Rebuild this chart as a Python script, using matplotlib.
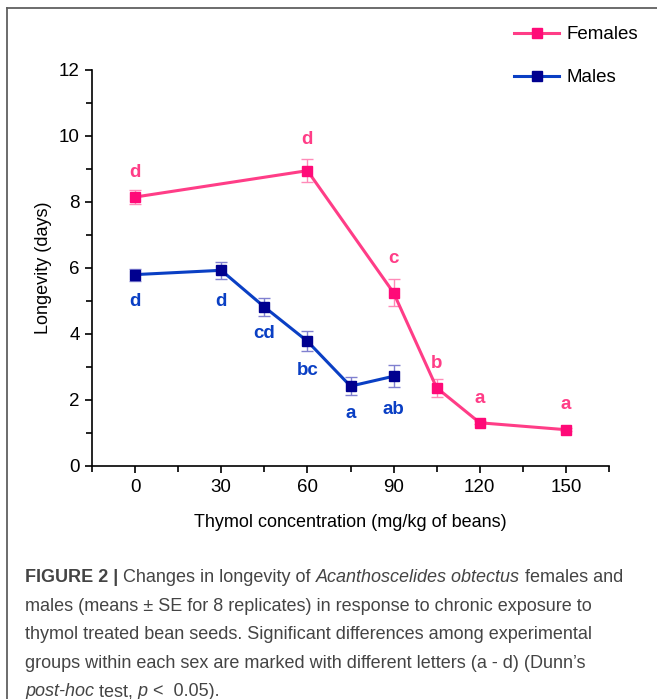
import matplotlib
matplotlib.use('Agg')
from matplotlib import pyplot as plt
from matplotlib.lines import Line2D
from matplotlib.ticker import MultipleLocator

plt.rcParams['font.family'] = ['Liberation Sans', 'DejaVu Sans']

# 数据
fem_x = [0, 60, 90, 105, 120, 150]
fem_y = [8.15, 8.95, 5.25, 2.37, 1.31, 1.10]
fem_err = [0.2, 0.35, 0.41, 0.28, 0.05, 0.04]
fem_letters = ['d', 'd', 'c', 'b', 'a', 'a']
fem_letter_y = [8.9, 9.9, 6.3, 3.1, 2.05, 1.85]

male_x = [0, 30, 45, 60, 75, 90]
male_y = [5.8, 5.93, 4.82, 3.78, 2.42, 2.72]
male_err = [0.18, 0.25, 0.28, 0.3, 0.28, 0.34]
male_letters = ['d', 'd', 'cd', 'bc', 'a', 'ab']
male_letter_y = [5.0, 4.97, 4.02, 2.88, 1.6, 1.7]

xticks = [0, 30, 60, 90, 120, 150]
yticks = [0, 2, 4, 6, 8, 10, 12]

fem_line = '#ff3d87'
fem_mark = '#ff0a78'
fem_ebar = '#ff8ab8'
male_line = '#0a3fc4'
male_mark = '#00008f'
male_ebar = '#8080d0'

fig = plt.figure(figsize=(6.57, 6.99), dpi=100)
ax = fig.add_axes([92 / 657, 1 - 466 / 699, 517 / 657, 396 / 699])

ax.errorbar(fem_x, fem_y, yerr=fem_err, fmt='none', ecolor=fem_ebar,
            elinewidth=1, capsize=4, capthick=1, zorder=2)
ax.errorbar(male_x, male_y, yerr=male_err, fmt='none', ecolor=male_ebar,
            elinewidth=1, capsize=4, capthick=1, zorder=2)
ax.plot(fem_x, fem_y, '-s', color=fem_line, mfc=fem_mark, mec=fem_mark,
        lw=2.2, ms=7, label='Females', zorder=3)
ax.plot(male_x, male_y, '-s', color=male_line, mfc=male_mark, mec=male_mark,
        lw=2.2, ms=7, label='Males', zorder=3)

for x, y, t in zip(fem_x, fem_letter_y, fem_letters):
    ax.text(x, y, t, color=fem_line, fontsize=13.5, fontweight='bold',
            ha='center', va='center')
for x, y, t in zip(male_x, male_letter_y, male_letters):
    ax.text(x, y, t, color=male_line, fontsize=13.5, fontweight='bold',
            ha='center', va='center')

ax.set_xlim(-15, 165)
ax.set_ylim(0, 12)
ax.set_xticks(xticks)
ax.set_yticks(yticks)
ax.xaxis.set_minor_locator(MultipleLocator(15))
ax.yaxis.set_minor_locator(MultipleLocator(1))
ax.tick_params(which='major', direction='out', length=5, width=1.2,
               labelsize=13.5, pad=4)
ax.tick_params(which='minor', direction='out', length=4, width=1.2)
for s in ['top', 'right']:
    ax.spines[s].set_visible(False)
for s in ['left', 'bottom']:
    ax.spines[s].set_linewidth(1.2)
ax.set_xlabel('Thymol concentration (mg/kg of beans)', fontsize=13, labelpad=13)
ax.set_ylabel('Longevity (days)', fontsize=13, labelpad=5)

fig.legend(loc='upper left', bbox_to_anchor=(514 / 657, 1 - 26 / 699),
           frameon=False, fontsize=13.5, labelspacing=1.4, handlelength=2.4,
           handletextpad=0.4, borderpad=0, borderaxespad=0)

# 外框
fig.add_artist(Line2D([7 / 657, 7 / 657], [0, 1 - 8 / 699], color='#606060', lw=1.3))
fig.add_artist(Line2D([7 / 657, 1], [1 - 8 / 699, 1 - 8 / 699], color='#606060', lw=1.3))

# 图注
cap_color = '#444444'
cap_size = 13
lines = [
    [('FIGURE 2 |', 'bold', 'normal'), (' Changes in longevity of ', 'normal', 'normal'),
     ('Acanthoscelides obtectus', 'normal', 'italic'), (' females and', 'normal', 'normal')],
    [('males (means \u00b1 SE for 8 replicates) in response to chronic exposure to', 'normal', 'normal')],
    [('thymol treated bean seeds. Significant differences among experimental', 'normal', 'normal')],
    [('groups within each sex are marked with different letters (a - d) (Dunn\u2019s', 'normal', 'normal')],
    [('post-hoc', 'normal', 'italic'), (' test, ', 'normal', 'normal'),
     ('p', 'normal', 'italic'), (' <  0.05).', 'normal', 'normal')],
]
renderer = fig.canvas.get_renderer()
y_px = 578
for line in lines:
    x_px = 25
    for txt, w, st in line:
        t = fig.text(x_px / 657, 1 - y_px / 699, txt, fontsize=cap_size, fontweight=w,
                     fontstyle=st, color=cap_color, va='center', ha='left')
        x_px += t.get_window_extent(renderer).width
    y_px += 28.4

fig.savefig('out.png', dpi=100)
